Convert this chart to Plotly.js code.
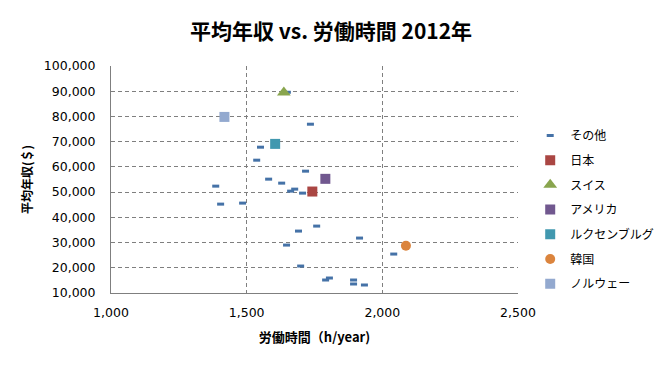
<!DOCTYPE html>
<html>
<head>
<meta charset="utf-8">
<script src="https://cdn.plot.ly/plotly-3.0.1.min.js"></script>
<style>html,body{margin:0;padding:0;background:#fff;}#chart{width:662px;height:377px;}</style>
</head>
<body>
<div id="chart"></div>
<script>
// その他 (other countries): hours per year, average annual wage ($)
const otherHours = [1551, 1537, 1717, 1581, 1629, 1386, 1677, 1662, 1706, 1404, 1485, 1758, 1691, 1647, 1699, 1805, 1791, 1894, 1894, 1934, 1916, 2042, 1735, 1650];
const otherWages = [67810, 62660, 58307, 55140, 53556, 52368, 51180, 50390, 49596, 45240, 45640, 36530, 34550, 29000, 20690, 15940, 15150, 15150, 13570, 13170, 31780, 25440, 76920, 89590];

const highlightNames = ["日本", "スイス", "アメリカ", "ルクセンブルグ", "韓国", "ノルウェー"];
const highlightHours = [1742, 1637, 1790, 1605, 2087, 1418];
const highlightWages = [50230, 89510, 55260, 69120, 28730, 79810];
const highlightColors = ["#AA4643", "#89A54E", "#71588F", "#4198AF", "#DB843D", "#93A9CF"];
const highlightSymbols = ["square", "triangle-up", "square", "square", "circle", "square"];
const highlightSizes = [10, 12, 10, 10, 10, 10];

const titleText = "平均年収 vs. 労働時間 2012年";
const xTitle = "労働時間（h/year)";
const yTitle = "平均年収(＄)";
const otherName = "その他";

const cjk = "Noto Sans CJK JP";
const traces = [{
  type: "scatter", mode: "markers", name: otherName, legendgroup: "g0",
  x: otherHours, y: otherWages,
  marker: {symbol: "line-ew", size: 5, color: "#4572A7", line: {color: "#4572A7", width: 3}},
  hoverinfo: "x+y"
}];
highlightNames.forEach((n, i) => {
  traces.push({
    type: "scatter", mode: "markers", name: n, legendgroup: "g" + (i + 1),
    x: [highlightHours[i]], y: [highlightWages[i]],
    marker: {symbol: highlightSymbols[i], size: highlightSizes[i], color: highlightColors[i], line: {width: 0}}
  });
});

const layout = {
  width: 662, height: 377,
  margin: {l: 110.5, r: 144, t: 66, b: 84, autoexpand: false},
  paper_bgcolor: "#ffffff", plot_bgcolor: "#ffffff",
  font: {family: "Verdana, DejaVu Sans, " + cjk, size: 12, color: "#000"},
  title: {text: titleText, x: 0.5, xref: "container", xanchor: "center", y: 0.916, yanchor: "middle", yref: "container",
          font: {family: cjk, size: 21, weight: "bold", color: "#000"}},
  xaxis: {
    range: [1000, 2500], dtick: 500, tick0: 1000, tickformat: ",d",
    showgrid: true, gridcolor: "#7f7f7f", griddash: "4px,3px", gridwidth: 1,
    showline: true, linecolor: "#7f7f7f", linewidth: 1, zeroline: false,
    ticks: "", ticklabelstandoff: 8,
    tickfont: {family: "Verdana, DejaVu Sans", size: 12.5, color: "#000"},
    title: {text: xTitle, standoff: 13, font: {family: cjk, size: 13, weight: "bold", color: "#000"}}
  },
  yaxis: {
    range: [10000, 100000], dtick: 10000, tick0: 10000, tickformat: ",d",
    showgrid: true, gridcolor: "#7f7f7f", griddash: "4px,3px", gridwidth: 1,
    showline: true, linecolor: "#7f7f7f", linewidth: 1, zeroline: false,
    ticks: "", ticklabelstandoff: 12,
    tickfont: {family: "Verdana, DejaVu Sans", size: 12.5, color: "#000"},
    title: {text: yTitle, standoff: 8, font: {family: cjk, size: 12, weight: "bold", color: "#000"}}
  },
  showlegend: true,
  legend: {x: 1.03, xanchor: "left", y: 0.758, yanchor: "top", traceorder: "grouped", tracegroupgap: 5.7,
           font: {family: cjk, size: 12, color: "#000"}, bgcolor: "rgba(0,0,0,0)", borderwidth: 0}
};

Plotly.newPlot("chart", traces, layout, {displayModeBar: false, staticPlot: true});
</script>
</body>
</html>
